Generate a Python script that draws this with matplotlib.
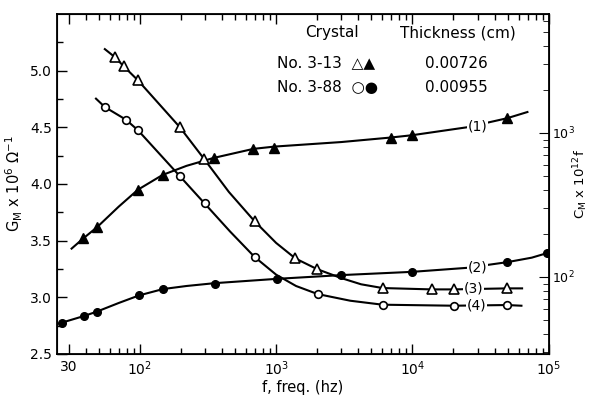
"""Conductance / capacitance vs frequency for two crystals."""

import numpy as np
import matplotlib.pyplot as plt
from matplotlib.ticker import FixedLocator, NullFormatter, LogLocator

# curve (1): No. 3-13, filled triangles
f1 = [38.5, 48.7, 97, 147, 348, 682, 972, 6940, 9890, 49400]
g1 = [3.52, 3.62, 3.95, 4.08, 4.23, 4.31, 4.32, 4.41, 4.43, 4.58]
f1_line = [31.6, 38.5, 48.7, 70, 97, 147, 220, 348, 682, 972, 3000, 6940, 9890, 25000, 49400, 69700]
g1_line = [3.43, 3.52, 3.62, 3.80, 3.95, 4.08, 4.16, 4.23, 4.31, 4.33, 4.37, 4.41, 4.43, 4.50, 4.58, 4.635]

# curve (2): No. 3-88, filled circles
f2 = [26.7, 38.9, 48.2, 98.8, 148, 354, 1010, 2990, 10000, 49400, 97000]
g2 = [2.776, 2.835, 2.873, 3.017, 3.073, 3.117, 3.163, 3.196, 3.225, 3.31, 3.39]
f2_line = [26.7, 38.9, 48.2, 70, 98.8, 148, 220, 354, 1010, 2990, 10000, 25000, 49400, 75000, 97000]
g2_line = [2.776, 2.835, 2.873, 2.95, 3.017, 3.073, 3.10, 3.125, 3.163, 3.196, 3.225, 3.26, 3.31, 3.35, 3.39]

# curve (3): No. 3-13, open triangles
f3 = [65.7, 76.4, 97, 196, 295, 694, 1385, 1995, 6030, 13800, 20100, 49400]
g3 = [5.119, 5.037, 4.914, 4.503, 4.224, 3.672, 3.343, 3.249, 3.079, 3.07, 3.07, 3.079]
f3_line = [55.4, 65.7, 76.4, 97, 196, 295, 450, 694, 1000, 1385, 1995, 3000, 4200, 6030, 13800, 20100, 49400, 63700]
g3_line = [5.19, 5.119, 5.037, 4.914, 4.503, 4.224, 3.93, 3.672, 3.48, 3.343, 3.249, 3.17, 3.115, 3.082, 3.07, 3.07, 3.079, 3.079]

# curve (4): No. 3-88, open circles
f4 = [55.4, 79, 97, 196, 299, 694, 2015, 6030, 20100, 49400]
g4 = [4.679, 4.568, 4.474, 4.071, 3.828, 3.357, 3.029, 2.932, 2.926, 2.932]
f4_line = [47.7, 55.4, 79, 97, 196, 299, 460, 694, 1000, 1400, 2015, 3500, 6030, 20100, 49400, 63000]
g4_line = [4.753, 4.679, 4.568, 4.474, 4.071, 3.828, 3.58, 3.357, 3.20, 3.10, 3.029, 2.97, 2.935, 2.926, 2.932, 2.926]

curve_labels = ['(1)', '(2)', '(3)', '(4)']
label_f = [30000, 30000, 28000, 29500]
label_g = [4.505, 3.263, 3.079, 2.926]

x_ticks = [30, 1e2, 1e3, 1e4, 1e5]
x_ticklabels = ['30', '$10^2$', '$10^3$', '$10^4$', '$10^5$']
y_ticks = [2.5, 3.0, 3.5, 4.0, 4.5, 5.0]


def main():
    plt.rcParams['font.family'] = ['DejaVu Sans']
    fig = plt.figure(figsize=(5.92, 3.95), dpi=100)
    ax = fig.add_axes([0.0963, 0.1038, 0.8307, 0.8608])

    lw = 1.5
    ax.plot(f1_line, g1_line, color='black', lw=lw, zorder=2)
    ax.plot(f2_line, g2_line, color='black', lw=lw, zorder=2)
    ax.plot(f3_line, g3_line, color='black', lw=lw, zorder=2)
    ax.plot(f4_line, g4_line, color='black', lw=lw, zorder=2)

    ax.plot(f1, g1, ls='none', marker='^', ms=7, mfc='black', mec='black', zorder=3)
    ax.plot(f2, g2, ls='none', marker='o', ms=5.5, mfc='black', mec='black', zorder=3)
    ax.plot(f3, g3, ls='none', marker='^', ms=7, mfc='white', mec='black', mew=1.2, zorder=3)
    ax.plot(f4, g4, ls='none', marker='o', ms=5.5, mfc='white', mec='black', mew=1.2, zorder=3)

    for lab, xf, yg in zip(curve_labels, label_f, label_g):
        ax.text(xf, yg, lab, fontsize=10, ha='center', va='center', zorder=4,
                bbox=dict(facecolor='white', edgecolor='none', pad=0.5))

    ax.set_xscale('log')
    ax.set_xlim(24.7, 1e5)
    ax.set_ylim(2.5, 5.5)
    ax.xaxis.set_major_locator(FixedLocator(x_ticks))
    ax.set_xticklabels(x_ticklabels)
    ax.xaxis.set_minor_locator(LogLocator(base=10, subs=np.arange(2, 10)))
    ax.xaxis.set_minor_formatter(NullFormatter())
    ax.set_yticks(y_ticks)
    ax.set_yticklabels(['%.1f' % v for v in y_ticks])
    ax.yaxis.set_minor_locator(FixedLocator(np.arange(2.75, 5.5, 0.5)))
    ax.tick_params(which='both', direction='in', top=True, labelsize=10)
    ax.tick_params(which='major', length=7, width=1)
    ax.tick_params(which='minor', length=4, width=1)
    ax.tick_params(axis='x', pad=4)
    for s in ax.spines.values():
        s.set_linewidth(1.3)

    ax.set_xlabel('f, freq. (hz)', fontsize=10.5, labelpad=1)
    ax.set_ylabel(r'G$_\mathregular{M}$ x 10$^6$ $\Omega^{-1}$', fontsize=10.5)

    ax2 = ax.twinx()
    ax2.set_yscale('log')
    ax2.set_ylim(10 ** 1.465, 10 ** 3.826)
    ax2.set_yticks([100, 1000])
    ax2.set_yticklabels(['$10^2$', '$10^3$'])
    ax2.yaxis.set_minor_locator(LogLocator(base=10, subs=np.arange(2, 10)))
    ax2.yaxis.set_minor_formatter(NullFormatter())
    ax2.tick_params(which='both', direction='in', labelsize=9, pad=2)
    ax2.tick_params(which='major', length=7)
    ax2.tick_params(which='minor', length=4)
    ax2.set_ylabel(r'C$_\mathregular{M}$ x 10$^{12}$f', fontsize=9.5, rotation=90)
    ax2.yaxis.set_label_coords(1.046, 0.5)

    # legend block
    tr = fig.transFigure
    fs = 11
    fig.text(305 / 592, 1 - 33 / 395, 'Crystal', fontsize=fs, va='center', transform=tr)
    fig.text(400 / 592, 1 - 33 / 395, 'Thickness (cm)', fontsize=fs, va='center', transform=tr)
    fig.text(277 / 592, 1 - 63 / 395, 'No. 3-13  \u25b3\u25b2', fontsize=fs, va='center', transform=tr)
    fig.text(277 / 592, 1 - 88 / 395, 'No. 3-88  \u25cb\u25cf', fontsize=fs, va='center', transform=tr)
    fig.text(425 / 592, 1 - 63 / 395, '0.00726', fontsize=fs, va='center', transform=tr)
    fig.text(425 / 592, 1 - 88 / 395, '0.00955', fontsize=fs, va='center', transform=tr)

    fig.savefig('out.png', dpi=100)


if __name__ == "__main__":
    main()
